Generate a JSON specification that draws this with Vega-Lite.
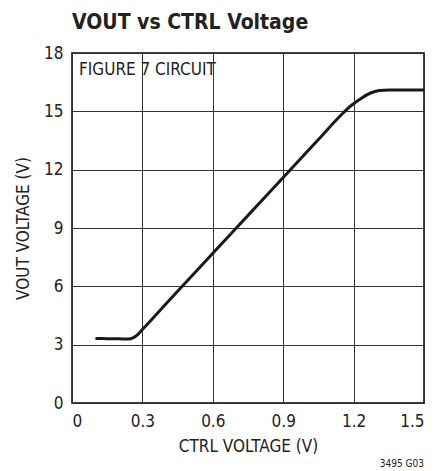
{
  "$schema": "https://vega.github.io/schema/vega-lite/v6.json",
  "autosize": {"type": "none"},
  "padding": {"left": 72, "top": 53, "right": 24, "bottom": 68},
  "width": 352,
  "height": 350,
  "background": "white",
  "title": {
    "text": "VOUT vs CTRL Voltage",
    "anchor": "start",
    "frame": "group",
    "font": "DejaVu Sans Condensed, Roboto Condensed, Roboto, sans-serif",
    "fontSize": 21,
    "fontWeight": "bold",
    "color": "#222",
    "offset": 11
  },
  "config": {
    "font": "DejaVu Sans Condensed, Roboto Condensed, Roboto, sans-serif",
    "view": {"stroke": "black", "strokeWidth": 1.5},
    "axis": {
      "grid": true,
      "gridColor": "#333",
      "gridWidth": 1,
      "gridOpacity": 1,
      "ticks": false,
      "domain": false,
      "labelFont": "DejaVu Sans Condensed, Roboto Condensed, Roboto, sans-serif",
      "labelFontSize": 17,
      "labelColor": "#222",
      "titleFont": "DejaVu Sans Condensed, Roboto Condensed, Roboto, sans-serif",
      "titleFontSize": 17,
      "titleFontWeight": "normal",
      "titleColor": "#222"
    }
  },
  "datasets": {
    "curve": [
      {"ctrl": 0.1, "vout": 3.32},
      {"ctrl": 0.15, "vout": 3.31},
      {"ctrl": 0.2, "vout": 3.3},
      {"ctrl": 0.24, "vout": 3.29},
      {"ctrl": 0.26, "vout": 3.35},
      {"ctrl": 0.28, "vout": 3.52},
      {"ctrl": 0.3, "vout": 3.78},
      {"ctrl": 0.33, "vout": 4.17},
      {"ctrl": 0.45, "vout": 5.75},
      {"ctrl": 0.6, "vout": 7.7},
      {"ctrl": 0.75, "vout": 9.65},
      {"ctrl": 0.9, "vout": 11.6},
      {"ctrl": 1.05, "vout": 13.55},
      {"ctrl": 1.15, "vout": 14.85},
      {"ctrl": 1.19, "vout": 15.3},
      {"ctrl": 1.23, "vout": 15.65},
      {"ctrl": 1.27, "vout": 15.93},
      {"ctrl": 1.31, "vout": 16.07},
      {"ctrl": 1.35, "vout": 16.1},
      {"ctrl": 1.5, "vout": 16.1}
    ],
    "notes": [
      {"ctrl": 0.03, "vout": 17.55, "label": "FIGURE 7 CIRCUIT"}
    ],
    "code": [
      {"ctrl": 1.5, "vout": -3.15, "label": "3495 G03"}
    ]
  },
  "layer": [
    {
      "data": {"name": "curve"},
      "mark": {"type": "line", "color": "#1a1a1a", "strokeWidth": 3, "interpolate": "monotone", "clip": true},
      "encoding": {
        "x": {
          "field": "ctrl", "type": "quantitative",
          "scale": {"domain": [0, 1.5], "nice": false},
          "axis": {"values": [0, 0.3, 0.6, 0.9, 1.2, 1.5], "format": "~g", "title": "CTRL VOLTAGE (V)", "labelPadding": 10, "titlePadding": 9}
        },
        "y": {
          "field": "vout", "type": "quantitative",
          "scale": {"domain": [0, 18], "nice": false},
          "axis": {"values": [0, 3, 6, 9, 12, 15, 18], "title": "VOUT VOLTAGE (V)", "labelPadding": 9, "titlePadding": 11}
        }
      }
    },
    {
      "data": {"name": "notes"},
      "mark": {"type": "text", "align": "left", "baseline": "top", "fontSize": 17, "color": "#222"},
      "encoding": {
        "x": {"field": "ctrl", "type": "quantitative"},
        "y": {"field": "vout", "type": "quantitative"},
        "text": {"field": "label"}
      }
    },
    {
      "data": {"name": "code"},
      "mark": {"type": "text", "align": "right", "baseline": "middle", "fontSize": 10, "color": "#222", "clip": false},
      "encoding": {
        "x": {"field": "ctrl", "type": "quantitative"},
        "y": {"field": "vout", "type": "quantitative"},
        "text": {"field": "label"}
      }
    }
  ]
}
